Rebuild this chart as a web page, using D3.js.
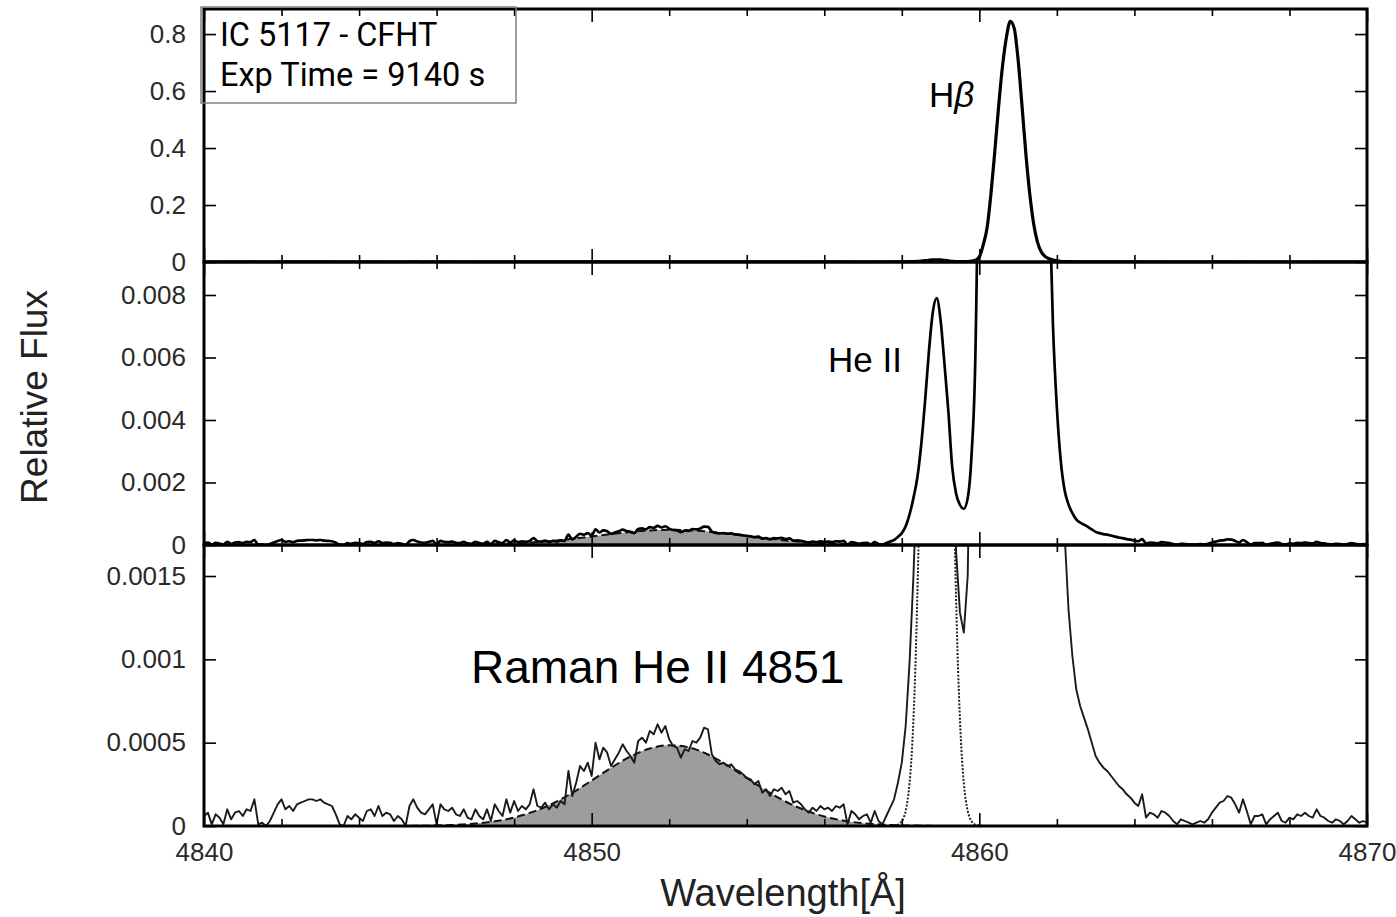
<!DOCTYPE html>
<html><head><meta charset="utf-8">
<script src="https://cdn.jsdelivr.net/npm/d3@7"></script>
<style>body{margin:0;background:#fff;} svg{display:block;}</style>
</head><body>
<svg id="chart" width="1396" height="917"></svg>
<script>
// ---------------- DATA ----------------
// Observed spectrum, relative flux in units of 1e-5, sampled every 0.1 Å from 4840 Å
const wlStart = 4840, wlStep = 0.1;
const fluxE5 = [
  6, 8, 1, 7, 5, 1, 10, 4, 8, 9,
  6, 10, 9, 16, 1, 2, 0, 3, 8, 13,
  16, 10, 12, 9, 13, 14, 15, 16, 16, 15,
  16, 14, 13, 12, 7, 1, 0, 6, 4, 7,
  5, 3, 9, 10, 6, 12, 6, 8, 7, 3,
  6, 4, 0, 12, 16, 11, 8, 7, 10, 13,
  1, 13, 10, 9, 11, 7, 6, 10, 5, 4,
  10, 6, 4, 10, 3, 13, 9, 6, 16, 8,
  15, 9, 12, 10, 13, 22, 12, 11, 14, 10,
  13, 11, 15, 13, 33, 18, 26, 36, 33, 38,
  30, 50, 40, 47, 44, 36, 40, 44, 49, 45,
  42, 38, 51, 53, 50, 57, 55, 61, 56, 60,
  52, 48, 47, 41, 46, 45, 51, 50, 53, 59,
  58, 43, 39, 37, 38, 36, 37, 34, 33, 31,
  29, 28, 25, 27, 20, 22, 18, 22, 21, 23,
  19, 21, 14, 15, 13, 10, 8, 11, 9, 12,
  10, 11, 9, 12, 11, 13, 1, 9, 7, 4,
  6, 7, 2, 9, 3, 1, 6, 11, 16, 26,
  38, 60, 98, 150, 215, 320, 460, 620, 745, 790,
  720, 580, 430, 250, 165, 128, 116, 150, 290, 620,
  1800, 6000, 12000, 24000, 39000, 55000, 69000, 79000, 84500, 82000,
  71000, 55000, 38000, 24000, 13500, 7000, 3500, 1900, 1150, 700,
  440, 270, 175, 130, 102, 82, 72, 65, 58, 50,
  42, 38, 35, 33, 30, 27, 24, 22, 19, 17,
  14, 12, 19, 5, 8, 7, 5, 9, 8, 6,
  3, 1, 4, 3, 2, 1, 2, 3, 2, 4,
  8, 11, 14, 15, 18, 17, 13, 8, 16, 9,
  1, 6, 6, 7, 1, 4, 6, 8, 3, 2,
  5, 4, 7, 6, 8, 6, 5, 10, 6, 5,
  3, 2, 4, 3, 1, 3, 6, 4, 2, 3,
  2
];
// Gaussian fit of the Raman He II 4851 feature (units 1e-5), every 0.5 Å from 4845 Å
const gaussStart = 4845, gaussStep = 0.5;
const gaussFitE5 = [0.05, 0.1, 0.3, 0.7, 1.5, 2.8, 5.1, 8.6, 13.6, 19.9, 27.3, 34.9, 41.7, 46.5, 48.5,
  47.2, 42.9, 36.4, 28.8, 21.3, 14.7, 9.5, 5.7, 3.2, 1.7, 0.8, 0.4, 0.15, 0.05];
// He II 4859 model profile (dotted, units 1e-5), every 0.05 Å from 4857.7 Å
const heModelStart = 4857.7, heModelStep = 0.05;
const heModelE5 = [0.05, 0.1, 0.2, 0.4, 0.7, 1.5, 2.8, 5.1, 9, 15.5, 25.7, 41, 64, 95, 137, 190, 256, 332,
  417, 505, 590, 667, 728, 766, 780, 766, 728, 667, 590, 505, 417, 332, 256, 190, 137, 95, 64, 41,
  25.7, 15.5, 9, 5.1, 2.8, 1.5, 0.7, 0.4, 0.2, 0.1, 0.05];

const xMajorTicks = [4840, 4850, 4860, 4870];
const xMajorLabels = ["4840", "4850", "4860", "4870"];
const xMinorTicks = [4842, 4844, 4846, 4848, 4852, 4854, 4856, 4858, 4862, 4864, 4866, 4868];
const topTicks = [0, 0.2, 0.4, 0.6, 0.8];
const topLabels = ["0", "0.2", "0.4", "0.6", "0.8"];
const midTicks = [0, 0.002, 0.004, 0.006, 0.008];
const midLabels = ["0", "0.002", "0.004", "0.006", "0.008"];
const botTicks = [0, 0.0005, 0.001, 0.0015];
const botLabels = ["0", "0.0005", "0.001", "0.0015"];

// ---------------- BUILD ----------------
const spectrum = fluxE5.map((v, i) => ({ wl: wlStart + i * wlStep, f: v * 1e-5 }));
const gauss = gaussFitE5.map((v, i) => ({ wl: gaussStart + i * gaussStep, f: v * 1e-5 }));
const heModel = heModelE5.map((v, i) => ({ wl: heModelStart + i * heModelStep, f: v * 1e-5 }));

const svg = d3.select("#chart");
const L = 204, R = 1367;
const x = d3.scaleLinear().domain([4840, 4870]).range([L, R]);

const panels = [
  { id: "top", y0: 9, y1: 262, max: 0.888, ticks: topTicks, labels: topLabels, lw: 3.2, curve: d3.curveMonotoneX, fill: false, model: false },
  { id: "mid", y0: 262, y1: 545, max: 0.009056, ticks: midTicks, labels: midLabels, lw: 2.7, curve: d3.curveMonotoneX, fill: true, model: false },
  { id: "bot", y0: 545, y1: 826, max: 0.001686, ticks: botTicks, labels: botLabels, lw: 1.9, curve: d3.curveLinear, fill: true, model: true }
];

const defs = svg.append("defs");
const font = "'Liberation Sans', Arial, Helvetica, sans-serif";

panels.forEach(p => {
  const y = d3.scaleLinear().domain([0, p.max]).range([p.y1, p.y0]);
  defs.append("clipPath").attr("id", "clip-" + p.id)
    .append("rect").attr("x", L).attr("y", p.y0).attr("width", R - L).attr("height", p.y1 - p.y0);
  const g = svg.append("g").attr("clip-path", `url(#clip-${p.id})`);

  if (p.fill) {
    g.append("path").datum(gauss)
      .attr("d", d3.area().x(d => x(d.wl)).y0(y(0)).y1(d => y(d.f)).curve(d3.curveMonotoneX))
      .attr("fill", "#9d9d9d");
    g.append("path").datum(gauss)
      .attr("d", d3.line().x(d => x(d.wl)).y(d => y(d.f)).curve(d3.curveMonotoneX))
      .attr("fill", "none").attr("stroke", "#111").attr("stroke-width", 2)
      .attr("stroke-dasharray", "8,4");
  }
  if (p.model) {
    g.append("path").datum(heModel)
      .attr("d", d3.line().x(d => x(d.wl)).y(d => y(d.f)).curve(d3.curveMonotoneX))
      .attr("fill", "none").attr("stroke", "#222").attr("stroke-width", 2)
      .attr("stroke-dasharray", "2,1.6");
  }
  g.append("path").datum(spectrum)
    .attr("d", d3.line().x(d => x(d.wl)).y(d => y(d.f)).curve(p.curve))
    .attr("fill", "none").attr("stroke", p.id === "bot" ? "#1a1a1a" : "#000")
    .attr("stroke-width", p.lw).attr("stroke-linejoin", "round");

  const tickStyle = sel => {
    sel.select(".domain").remove();
    sel.selectAll(".tick line").attr("stroke", "#000").attr("stroke-width", 1.6);
    sel.selectAll(".tick text").attr("fill", "#2a2a2a").style("font-family", font).style("font-size", "26px");
  };
  svg.append("g").attr("transform", `translate(${L},0)`)
    .call(d3.axisLeft(y).tickValues(p.ticks).tickSize(-12).tickPadding(18)
      .tickFormat((d, i) => p.labels[i]))
    .call(tickStyle);
  svg.append("g").attr("transform", `translate(${R},0)`)
    .call(d3.axisRight(y).tickValues(p.ticks).tickSize(-12).tickFormat(""))
    .call(tickStyle);
  [[xMinorTicks, 7], [xMajorTicks, 13]].forEach(([vals, len]) => {
    svg.append("g").attr("transform", `translate(0,${p.y1})`)
      .call(d3.axisBottom(x).tickValues(vals).tickSize(-len).tickFormat(""))
      .call(tickStyle);
    svg.append("g").attr("transform", `translate(0,${p.y0})`)
      .call(d3.axisTop(x).tickValues(vals).tickSize(-len).tickFormat(""))
      .call(tickStyle);
  });
  svg.append("rect").attr("x", L).attr("y", p.y0).attr("width", R - L).attr("height", p.y1 - p.y0)
    .attr("fill", "none").attr("stroke", "#000").attr("stroke-width", 3);
  if (p.id === "bot") {
    svg.append("g").attr("transform", `translate(0,${p.y1})`)
      .call(d3.axisBottom(x).tickValues(xMajorTicks).tickSize(0).tickPadding(17)
        .tickFormat((d, i) => xMajorLabels[i]))
      .call(tickStyle);
  }
});

// axis titles
svg.append("text").attr("transform", "translate(47,397) rotate(-90)")
  .attr("text-anchor", "middle").style("font-family", font).style("font-size", "37px")
  .attr("fill", "#222").text("Relative Flux");
svg.append("text").attr("x", 783).attr("y", 906)
  .attr("text-anchor", "middle").style("font-family", font).style("font-size", "38px")
  .attr("fill", "#222").text("Wavelength[Å]");

// annotations
const hb = svg.append("text").attr("x", 929).attr("y", 107).style("font-family", font).style("font-size", "35px").attr("fill", "#000");
hb.append("tspan").text("H");
hb.append("tspan").style("font-style", "italic").text("β");
svg.append("text").attr("x", 828).attr("y", 372).style("font-family", font).style("font-size", "35px").attr("fill", "#000").text("He II");
svg.append("text").attr("x", 471).attr("y", 683).style("font-family", font).style("font-size", "46px").attr("fill", "#000").text("Raman He II 4851");

// info box
svg.append("rect").attr("x", 201).attr("y", 7).attr("width", 315).attr("height", 96)
  .attr("fill", "none").attr("stroke", "#808080").attr("stroke-width", 1.5);
const boxFont = "Roboto, 'Noto Sans', sans-serif";
svg.append("text").attr("x", 220).attr("y", 46).style("font-family", boxFont).style("font-size", "32.5px").attr("fill", "#000").text("IC 5117 - CFHT");
svg.append("text").attr("x", 220).attr("y", 86).style("font-family", boxFont).style("font-size", "32.5px").attr("fill", "#000").text("Exp Time = 9140 s");
</script>
</body></html>
